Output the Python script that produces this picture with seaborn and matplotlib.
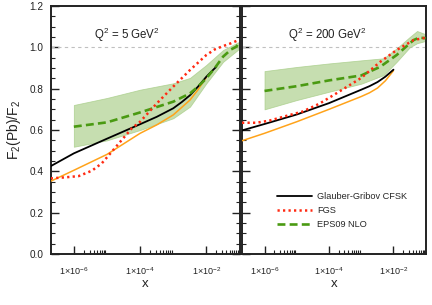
import numpy as np
import pandas as pd
import matplotlib
matplotlib.use("Agg")
import matplotlib.pyplot as plt
from matplotlib.ticker import FixedLocator, NullFormatter
import seaborn as sns

sns.set_theme(style="white")
plt.rcParams['font.family'] = ['Liberation Sans', 'DejaVu Sans']
plt.rcParams['mathtext.fontset'] = 'custom'
plt.rcParams['mathtext.rm'] = 'Liberation Sans'
plt.rcParams['mathtext.it'] = 'Liberation Sans:italic'
plt.rcParams['mathtext.bf'] = 'Liberation Sans:bold'

# ---------------- data: Q^2 = 5 GeV^2 ----------------
l_black_x = [2e-7, 1e-6, 1e-5, 1e-4, 3.2e-4, 1e-3, 1.8e-3, 3.2e-3, 5.6e-3,
             1e-2, 1.4e-2, 2e-2]
l_black_y = [0.425, 0.487, 0.558, 0.628, 0.664, 0.705, 0.735, 0.768, 0.810,
             0.858, 0.882, 0.906]
l_orange_x = [2e-7, 1e-6, 1e-5, 1e-4, 3.2e-4, 1e-3, 3.2e-3, 5.6e-3, 1e-2]
l_orange_y = [0.352, 0.405, 0.482, 0.584, 0.625, 0.673, 0.745, 0.795, 0.855]
l_red_x = [2e-7, 5.6e-7, 1.4e-6, 3.5e-6, 7e-6, 1.4e-5, 2.8e-5, 5.6e-5, 1e-4,
           3.2e-4, 1e-3, 3.2e-3, 1e-2, 1.8e-2, 3.2e-2, 5.6e-2, 9.3e-2]
l_red_y = [0.366, 0.371, 0.377, 0.403, 0.439, 0.495, 0.552, 0.608, 0.640,
           0.729, 0.810, 0.890, 0.963, 0.990, 1.006, 1.020, 1.035]
l_green_x = [1e-6, 1e-5, 1e-4, 1e-3, 3.2e-3, 5.6e-3, 1e-2, 1.8e-2, 3.2e-2,
             5.6e-2, 8e-2, 9.3e-2]
l_green_y = [0.616, 0.637, 0.685, 0.737, 0.777, 0.810, 0.850, 0.900, 0.955,
             0.990, 1.003, 1.018]
l_band_x = [1e-6, 1e-5, 1e-4, 1e-3, 3.2e-3, 1e-2, 3.2e-2, 9.3e-2]
l_band_hi = [0.721, 0.755, 0.795, 0.826, 0.852, 0.915, 0.987, 1.025]
l_band_lo = [0.519, 0.550, 0.600, 0.657, 0.713, 0.826, 0.930, 0.990]

# ---------------- data: Q^2 = 200 GeV^2 ----------------
r_black_x = [2e-7, 1e-6, 1e-5, 1e-4, 1e-3, 1.8e-3, 3.2e-3, 5.6e-3, 1e-2]
r_black_y = [0.598, 0.629, 0.675, 0.730, 0.795, 0.812, 0.832, 0.858, 0.892]
r_orange_x = [2e-7, 1e-6, 1e-5, 1e-4, 1e-3, 1.8e-3, 3.2e-3, 5.6e-3, 1e-2]
r_orange_y = [0.548, 0.584, 0.640, 0.700, 0.762, 0.780, 0.803, 0.838, 0.887]
r_red_x = [2e-7, 5.5e-7, 1.4e-6, 4.7e-6, 1.5e-5, 5e-5, 1.6e-4, 1e-3,
           3.9e-3, 1.26e-2, 4.2e-2, 1e-1]
r_red_y = [0.635, 0.635, 0.645, 0.668, 0.689, 0.727, 0.775, 0.852,
           0.930, 0.987, 1.035, 1.047]
r_green_x = [1e-6, 1e-5, 1e-4, 1e-3, 3.9e-3, 1.26e-2, 4.2e-2, 6.3e-2, 1e-1]
r_green_y = [0.789, 0.812, 0.840, 0.864, 0.906, 0.963, 1.035, 1.047, 1.044]
r_band_x = [1e-6, 1e-5, 1e-4, 1e-3, 5e-3, 1.26e-2, 3.2e-2, 5.4e-2, 1e-1]
r_band_hi = [0.885, 0.905, 0.922, 0.937, 0.947, 0.995, 1.050, 1.079, 1.063]
r_band_lo = [0.700, 0.745, 0.785, 0.824, 0.866, 0.930, 1.000, 1.020, 1.031]

titles = [r'Q$^2$ = 5 GeV$^2$', r'Q$^2$ = 200 GeV$^2$']
xtick_vals = [1e-6, 1e-4, 1e-2]
xtick_labels = [r'1$\times$10$^{-6}$', r'1$\times$10$^{-4}$', r'1$\times$10$^{-2}$']
legend_labels = ['Glauber-Gribov CFSK', 'FGS', 'EPS09 NLO']

C_BLACK = '#000000'
C_ORANGE = '#ffa31a'
C_RED = '#ff2a12'
C_GREEN = '#4a9a12'
C_BAND = '#b3d496'

W, H = 432, 305
fig = plt.figure(figsize=(W / 100, H / 100), dpi=100)
ax1 = fig.add_axes([50.7 / W, 51 / H, 188.8 / W, 248 / H])
ax2 = fig.add_axes([242 / W, 51 / H, 183.7 / W, 248 / H])

panels = [
    (ax1, l_black_x, l_black_y, l_orange_x, l_orange_y, l_red_x, l_red_y,
     l_green_x, l_green_y, l_band_x, l_band_hi, l_band_lo),
    (ax2, r_black_x, r_black_y, r_orange_x, r_orange_y, r_red_x, r_red_y,
     r_green_x, r_green_y, r_band_x, r_band_hi, r_band_lo),
]

minor_x = [k * 10.0 ** e for e in (-6, -4, -2) for k in range(2, 10)]

for i, (ax, bx, by, ox, oy, rx, ry, gx, gy, fx, fhi, flo) in enumerate(panels):
    ax.set_xscale('log')
    ax.axhline(1.0, color='#c0c0c0', lw=0.8, ls=(0, (3, 3)), zorder=1)
    ax.fill_between(fx, flo, fhi, color=C_BAND, alpha=0.75, lw=0.6,
                    edgecolor='#a6cc86', zorder=2)
    sns.lineplot(x=ox, y=oy, ax=ax, color=C_ORANGE, lw=1.1, sort=False,
                 estimator=None, zorder=3)
    sns.lineplot(x=bx, y=by, ax=ax, color=C_BLACK, lw=1.3, sort=False,
                 estimator=None, zorder=4, label=legend_labels[0])
    sns.lineplot(x=gx, y=gy, ax=ax, color=C_GREEN, lw=1.9, sort=False,
                 estimator=None, zorder=5, label=legend_labels[2])
    ax.lines[-1].set_dashes([3.0, 1.6])
    sns.lineplot(x=rx, y=ry, ax=ax, color=C_RED, lw=1.8, sort=False,
                 estimator=None, zorder=6, label=legend_labels[1])
    ax.lines[-1].set_dashes([0.9, 1.3])

    ax.set_xlim(2e-7, 0.1)
    ax.set_ylim(0, 1.2)
    ax.xaxis.set_major_locator(FixedLocator(xtick_vals))
    ax.set_xticklabels(xtick_labels)
    ax.xaxis.set_minor_locator(FixedLocator(minor_x))
    ax.xaxis.set_minor_formatter(NullFormatter())
    ax.set_yticks([0, 0.2, 0.4, 0.6, 0.8, 1.0, 1.2])
    ax.yaxis.set_minor_locator(FixedLocator(np.arange(0, 1.2001, 0.05)))
    ax.tick_params(which='major', direction='in', length=6, width=1.0,
                   color='#222222', labelcolor='#222222')
    ax.tick_params(which='minor', direction='in', length=3, width=0.8,
                   color='#222222')
    ax.tick_params(axis='x', which='both', top=False, bottom=True, pad=8,
                   labelsize=6.5)
    ax.tick_params(axis='y', which='both', left=True, right=(i == 0), pad=5,
                   labelsize=7.2)
    for s in ax.spines.values():
        s.set_linewidth(1.4)
        s.set_color('#222222')
    ax.set_xlabel('x', fontsize=9.5, color='#222222', labelpad=1)
    ax.set_ylabel('')
    if ax.get_legend() is not None:
        ax.get_legend().remove()

ax1.text(0.404, 0.885, titles[0], transform=ax1.transAxes, ha='center',
         va='center', fontsize=8.3, color='#222222')
ax2.text(0.465, 0.885, titles[1], transform=ax2.transAxes, ha='center',
         va='center', fontsize=8.3, color='#222222')

ax2.set_yticklabels([])
ax1.set_ylabel(r'F$_2$(Pb)/F$_2$', fontsize=10, color='#222222', labelpad=5)

handles, labels = ax2.get_legend_handles_labels()
order = [labels.index(l) for l in legend_labels]
ax2.legend([handles[j] for j in order], [labels[j] for j in order],
           loc='upper left', bbox_to_anchor=(0.19, 0.25), frameon=False,
           fontsize=6.6, handlelength=3.8, handletextpad=0.6,
           labelspacing=0.55, borderpad=0, borderaxespad=0)

fig.savefig('out.png', dpi=100)
